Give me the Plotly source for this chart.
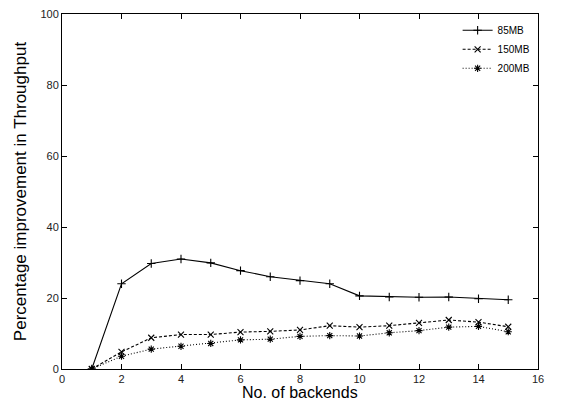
import plotly.graph_objects as go

backends = list(range(1, 16))
mb85 = [0, 24.0, 29.7, 31.0, 29.9, 27.7, 26.0, 24.9, 24.0, 20.6, 20.3, 20.2, 20.3, 19.8, 19.5]
mb150 = [0, 4.8, 8.8, 9.7, 9.7, 10.4, 10.6, 11.0, 12.2, 11.8, 12.2, 13.0, 13.8, 13.2, 11.9]
mb200 = [0, 3.6, 5.6, 6.4, 7.2, 8.2, 8.4, 9.2, 9.4, 9.3, 10.2, 10.8, 11.8, 12.0, 10.5]

series = [
    ("85MB", mb85, "solid", "cross-thin"),
    ("150MB", mb150, "3px,2px", "x-thin"),
    ("200MB", mb200, "1px,2px", "asterisk"),
]

fig = go.Figure()
for name, vals, dash, sym in series:
    fig.add_trace(go.Scatter(
        x=backends, y=vals, name=name, mode="lines+markers",
        line=dict(color="black", width=1.1, dash=dash),
        marker=dict(symbol=sym, size=6, color="black",
                    line=dict(color="black", width=1.1)),
    ))

axis_common = dict(
    showline=True, linecolor="black", linewidth=1, mirror="ticks",
    ticks="inside", ticklen=5, tickcolor="black", showgrid=False,
    zeroline=False, tickfont=dict(size=11, color="#222"), automargin=False,
    ticklabeloverflow="allow",
)
fig.update_xaxes(range=[0, 16], dtick=2, tick0=0, **axis_common)
fig.update_yaxes(range=[0, 100], dtick=20, tick0=0,
                 title=dict(text="Percentage improvement in Throughput", font=dict(size=17, color="black"), standoff=9),
                 **axis_common)

fig.add_annotation(text="No. of backends", xref="paper", yref="paper", x=0.5, y=0,
                   xanchor="center", yanchor="top", yshift=-13, showarrow=False,
                   font=dict(size=16, color="black"))

# the page body adds an 8px margin, so the figure is sized to fit the window
fig.update_layout(
    width=568, height=394,
    margin=dict(l=54, r=38, t=6, b=33),
    plot_bgcolor="white", paper_bgcolor="white",
    font=dict(family="Liberation Sans, Arial, sans-serif", color="black"),
    legend=dict(x=0.995, y=0.995, xanchor="right", yanchor="top",
                bgcolor="rgba(0,0,0,0)", font=dict(size=10),
                tracegroupgap=0, itemwidth=30),
)
fig.write_html("out.html")
